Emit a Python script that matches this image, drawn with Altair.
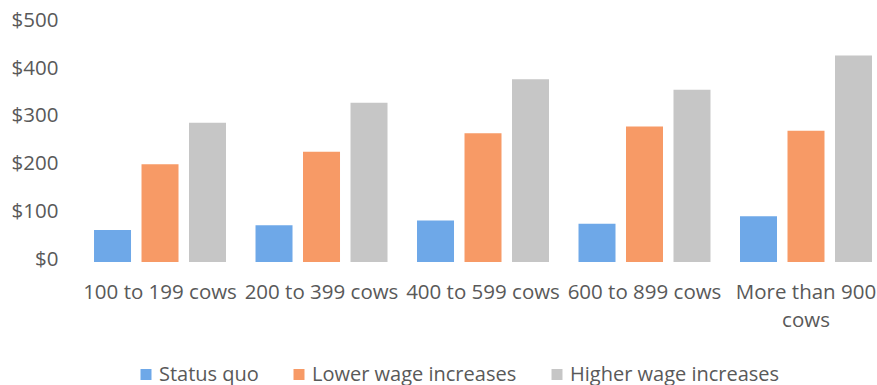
import altair as alt
import pandas as pd

# Herd-size groups and cost scenarios
herd_sizes = ["100 to 199 cows", "200 to 399 cows", "400 to 599 cows",
              "600 to 899 cows", "More than 900 cows"]
scenarios = ["Status quo", "Lower wage increases", "Higher wage increases"]

# Cost per cow ($) for each scenario, in herd-size order
status_quo = [67, 77, 87, 80, 96]
lower_wage = [205, 231, 270, 284, 275]
higher_wage = [292, 334, 383, 361, 433]

y_ticks = [0, 100, 200, 300, 400, 500]
colors = ["#6EA8E8", "#F79A66", "#C6C6C6"]

rows = []
for scen, vals in zip(scenarios, [status_quo, lower_wage, higher_wage]):
    for herd, v in zip(herd_sizes, vals):
        rows.append({"herd": herd, "scenario": scen, "cost": v})
df = pd.DataFrame(rows)

FONT = "Open Sans"
TEXT = "#595959"

chart = alt.Chart(df).mark_bar().encode(
    x=alt.X(
        "herd:N", sort=herd_sizes, title=None,
        scale=alt.Scale(paddingInner=0.1827, paddingOuter=0.062, align=0.75),
        axis=alt.Axis(
            labelAngle=0, domain=False, ticks=False, labelPadding=20,
            labelLineHeight=28, labelLimit=300,
            labelExpr="datum.value == 'More than 900 cows' ? ['More than 900', 'cows'] : datum.value",
        ),
    ),
    xOffset=alt.XOffset(
        "scenario:N", sort=scenarios,
        scale=alt.Scale(paddingInner=0.221, paddingOuter=0),
    ),
    y=alt.Y(
        "cost:Q", title=None,
        scale=alt.Scale(domain=[0, 500], nice=False),
        axis=alt.Axis(values=y_ticks, format="$,.0f", grid=False, domain=False,
                      ticks=False, labelPadding=21, labelOffset=-3),
    ),
    color=alt.Color(
        "scenario:N", sort=scenarios,
        scale=alt.Scale(domain=scenarios, range=colors),
        legend=alt.Legend(
            orient="none", direction="horizontal", legendX=57, legendY=341,
            title=None, symbolType="square", symbolSize=121, symbolStrokeWidth=0,
            labelFontSize=20, labelFont=FONT, labelColor=TEXT, labelLimit=400,
            labelOffset=3, columnPadding=30,
        ),
    ),
).properties(
    width=798, height=238.5,
    autosize=alt.AutoSizeParams(type="none"),
    padding={"left": 79, "top": 23.5, "right": 0, "bottom": 123},
).configure_view(
    strokeWidth=0
).configure_axis(
    labelFont=FONT, labelFontSize=20.5, labelColor=TEXT
)

chart.save("out.html", embed_options={"renderer": "svg", "actions": False})
